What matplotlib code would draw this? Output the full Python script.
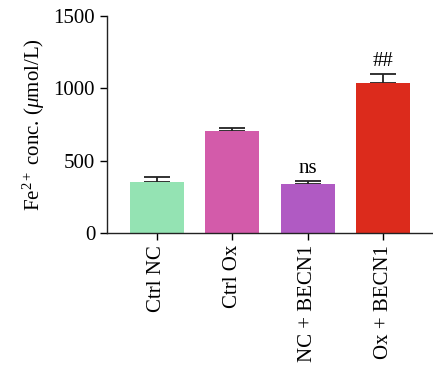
import matplotlib
matplotlib.use("Agg")
from matplotlib import pyplot as plt

groups = ["Ctrl NC", "Ctrl Ox", "NC + BECN1", "Ox + BECN1"]
means = [352, 705, 339, 1037]
errors = [33, 25, 21, 64]
colors = ["#94E3B3", "#D35BAA", "#B05AC3", "#DC2B1C"]
marks = ["", "", "ns", "##"]

plt.rcParams["font.family"] = "Liberation Serif"
plt.rcParams["mathtext.fontset"] = "custom"
plt.rcParams["mathtext.rm"] = "Liberation Serif"
plt.rcParams["mathtext.it"] = "Liberation Serif:italic"

fig = plt.figure(figsize=(4.33, 3.76), dpi=100)
ax = fig.add_axes([0.247, 0.380, 0.753, 0.577])

x = list(range(len(groups)))
ax.bar(x, means, width=0.72, color=colors, zorder=2)
ax.errorbar(x, means, yerr=[[0] * len(errors), errors], fmt="none",
            ecolor="#222222", elinewidth=1.3, capsize=9.5, capthick=1.3, zorder=1)

for xi, m, e, s in zip(x, means, errors, marks):
    if s:
        ax.text(xi, m + e + 20, s, ha="center", va="bottom", fontsize=15)

ax.set_xlim(-0.66, 3.66)
ax.set_ylim(0, 1500)
ax.set_yticks([0, 500, 1000, 1500])
ax.set_xticks(x)
ax.set_xticklabels(groups, rotation=90, fontsize=15)
ax.tick_params(axis="y", labelsize=15, width=1, length=5)
ax.tick_params(axis="x", width=1, length=5)
ax.set_ylabel("Fe$^{2+}$ conc. ($\\mu$mol/L)", fontsize=15, labelpad=5)

ax.spines["top"].set_visible(False)
ax.spines["right"].set_visible(False)
for sp in ["left", "bottom"]:
    ax.spines[sp].set_linewidth(1)
    ax.spines[sp].set_color("#222222")

fig.savefig("out.png", dpi=100)
